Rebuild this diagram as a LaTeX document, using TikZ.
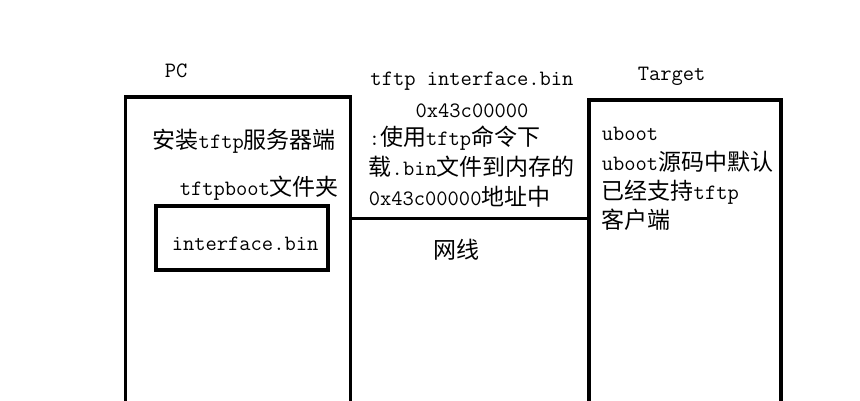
\documentclass[tikz,border=0pt]{standalone}
\usepackage{fontspec}
\newfontfamily\cjk[Scale=1.05]{Noto Sans CJK SC}
\newcommand\zh[1]{{\cjk #1}}
\begin{document}
\begin{tikzpicture}[x=1pt,y=-1pt,line width=3.5pt,
   txt/.style={inner sep=0pt,anchor=base west,font=\ttfamily\fontsize{21.9}{29}\selectfont},
   box/.style={draw,inner sep=0pt,anchor=north west}]
   \useasboundingbox (0,0) rectangle (860,400);
   \clip (0,0) rectangle (860,400);

     \path (123.5,95) node[box,minimum width=225,minimum height=340] (pc) {};
     \path (587,98) node[box,minimum width=192,minimum height=340] (target) {};
     \path (154,204) node[box,line width=4pt,minimum width=172,minimum height=64] (bin) {};

     \path (163,77) node[txt] (pcname) {PC};
     \path (636,80) node[txt] (tgname) {Target};

     \path (151,148) node[txt] (server) {\zh{安装}tftp\zh{服务器端}};
     \path (178,195) node[txt] (folder) {tftpboot\zh{文件夹}};
     \path (170,250) node[txt] (binname) {interface.bin};

     \path (472,85) node[txt,anchor=base] (cmd) {tftp interface.bin};
     \path (472,117) node[txt,anchor=base] (addr) {0x43c00000};
     \path (367,145) node[txt] (desc1) {:\zh{使用}tftp\zh{命令下}};
     \path (367,175) node[txt] (desc2) {\zh{载}.bin\zh{文件到内存的}};
     \path (367,205) node[txt] (desc3) {0x43c00000\zh{地址中}};
     \path (432,258) node[txt] (cable) {\zh{网线}};

     \path (600,140) node[txt] (uboot1) {uboot};
     \path (600,170) node[txt] (uboot2) {uboot\zh{源码中默认}};
     \path (600,199) node[txt] (uboot3) {\zh{已经支持}tftp};
     \path (600,228) node[txt] (uboot4) {\zh{客户端}};

     \coordinate (net) at (0,218);
     \draw[line width=3pt] (pc.east |- net) -- (target.west |- net);

   \end{tikzpicture}
\end{document}
